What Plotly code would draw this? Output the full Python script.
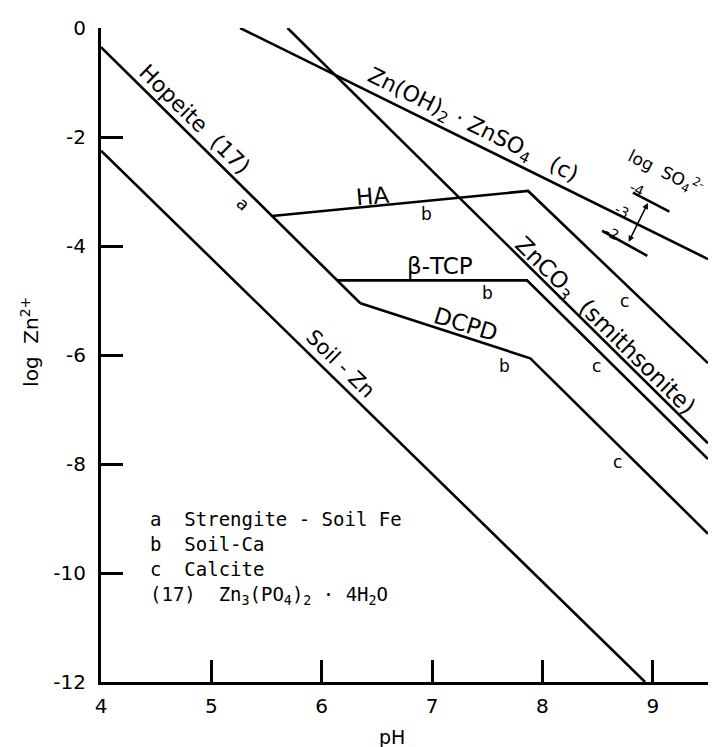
import plotly.graph_objects as go

# ---- data (pH, log Zn2+) ----
hopeite_ph = [4.0, 6.35]
hopeite_log = [-0.35, -5.05]

soilzn_ph = [4.0, 8.93]
soilzn_log = [-2.25, -12.0]

ha_ph = [5.55, 7.87, 9.5]
ha_log = [-3.45, -2.99, -6.15]

tcp_ph = [6.14, 7.86, 9.5]
tcp_log = [-4.63, -4.63, -7.91]

dcpd_ph = [6.35, 7.89, 9.5]
dcpd_log = [-5.05, -6.06, -9.28]

znco3_ph = [5.69, 9.5]
znco3_log = [0.0, -7.62]

znso4_ph = [5.26, 9.5]
znso4_log = [0.0, -4.24]

so4_m4_ph = [8.82, 9.15]
so4_m4_log = [-3.02, -3.37]

so4_m2_ph = [8.54, 8.95]
so4_m2_log = [-3.72, -4.18]

arrow_ph = [8.955, 8.775]
arrow_log = [-3.21, -3.95]

x_ticks = [4, 5, 6, 7, 8, 9]
x_ticktext = ["4", "5", "6", "7", "8", "9"]
y_ticks = [0, -2, -4, -6, -8, -10, -12]
y_ticktext = ["0", "-2", "-4", "-6", "-8", "-10", "-12"]

legend_lines = [
    "a  Strengite - Soil Fe",
    "b  Soil-Ca",
    "c  Calcite",
    "(17)  Zn<sub>3</sub>(PO<sub>4</sub>)<sub>2</sub> · 4H<sub>2</sub>O",
]
legend_y = [-9.01, -9.47, -9.93, -10.41]

FONT = "DejaVu Sans"
MONO = "DejaVu Sans Mono"
LW = 2.6

fig = go.Figure()
for xs, ys in [(hopeite_ph, hopeite_log), (soilzn_ph, soilzn_log), (ha_ph, ha_log),
               (tcp_ph, tcp_log), (dcpd_ph, dcpd_log), (znco3_ph, znco3_log),
               (znso4_ph, znso4_log), (so4_m4_ph, so4_m4_log), (so4_m2_ph, so4_m2_log)]:
    fig.add_trace(go.Scatter(x=xs, y=ys, mode="lines",
                             line=dict(color="black", width=LW),
                             showlegend=False, hoverinfo="skip"))

ann = []

def lab(x, y, text, size=20, angle=0):
    ann.append(dict(x=x, y=y, xref="x", yref="y", text=text, showarrow=False,
                    xanchor="center", yanchor="middle",
                    textangle=angle, font=dict(size=size, color="black", family=FONT)))

lab(4.85, -1.68, "Hopeite  (17)", 22, 44.5)
lab(5.29, -3.23, "a", 17, 44.5)
lab(7.37, -1.80, "Zn(OH)<sub>2</sub> · ZnSO<sub>4</sub>   (c)", 22, 26.2)
lab(9.11, -2.66, "log  SO<sub>4</sub><sup>2-</sup>", 17, 26)
lab(8.855, -2.95, "-4", 14, 26)
lab(8.72, -3.355, "-3", 14, 26)
lab(8.63, -3.76, "-2", 14, 26)
lab(6.46, -3.08, "HA", 23, -5)
lab(6.95, -3.41, "b", 17)
lab(7.07, -4.37, "β-TCP", 23)
lab(7.50, -4.87, "b", 17)
lab(7.30, -5.44, "DCPD", 23, 17)
lab(7.66, -6.21, "b", 17)
lab(8.56, -5.49, "ZnCO<sub>3</sub>  (smithsonite)", 23, 44.5)
lab(6.17, -6.17, "Soil - Zn", 21, 44.5)
lab(8.746, -5.01, "c", 17)
lab(8.493, -6.21, "c", 17)
lab(8.683, -7.96, "c", 17)

for t, yv in zip(legend_lines, legend_y):
    ann.append(dict(x=4.43, y=yv, xref="x", yref="y", text=t, showarrow=False,
                    xanchor="left", yanchor="middle",
                    font=dict(size=19, color="black", family=MONO)))

# double-headed arrow for log SO4
ann.append(dict(x=arrow_ph[0], y=arrow_log[0], ax=arrow_ph[1], ay=arrow_log[1],
                xref="x", yref="y", axref="x", ayref="y", text="", showarrow=True,
                arrowhead=2, startarrowhead=2, arrowside="end+start",
                arrowsize=0.8, arrowwidth=1.5, arrowcolor="black",
                startstandoff=0, standoff=0))

# axis titles
ann.append(dict(x=-0.117, y=0.52, xref="paper", yref="paper", text="log  Zn<sup>2+</sup>",
                xanchor="center", yanchor="middle",
                showarrow=False, textangle=-90, font=dict(size=20, color="black", family=FONT)))
ann.append(dict(x=0.479, y=-0.084, xref="paper", yref="paper", text="pH",
                xanchor="center", yanchor="middle",
                showarrow=False, font=dict(size=19, color="black", family=FONT)))

fig.update_layout(
    width=717, height=747,
    margin=dict(l=101, r=9, t=28, b=65),
    plot_bgcolor="white", paper_bgcolor="white",
    annotations=ann,
    font=dict(family=FONT, color="black"),
)
fig.update_xaxes(range=[4, 9.5], tickvals=x_ticks, ticktext=x_ticktext,
                 ticks="inside", ticklen=22, tickwidth=2.5, tickcolor="black",
                 showline=True, linewidth=3, linecolor="black", showgrid=False,
                 zeroline=False, tickfont=dict(size=20, family=FONT, color="black"),
                 ticklabelstandoff=4)
fig.update_yaxes(range=[-12, 0], tickvals=y_ticks, ticktext=y_ticktext,
                 ticks="inside", ticklen=22, tickwidth=2.5, tickcolor="black",
                 showline=True, linewidth=3, linecolor="black", showgrid=False,
                 zeroline=False, tickfont=dict(size=20, family=FONT, color="black"),
                 ticklabelstandoff=8)

fig.write_html("out.html")
